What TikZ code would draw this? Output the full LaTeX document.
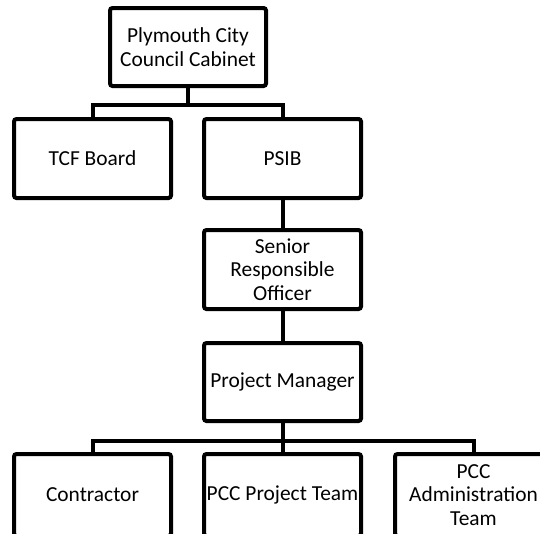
\documentclass[tikz,border=0pt]{standalone}
\usepackage{fontspec}
\setmainfont{Carlito}
\begin{document}
\begin{tikzpicture}[x=1pt,y=-1pt,
  orgbox/.style={draw=black, line width=4pt, rounded corners=2.5pt, fill=white,
    inner sep=0pt, align=center, font=\fontsize{21.4}{23.5}\selectfont,
    minimum width=157pt, minimum height=79pt},
  link/.style={draw=black, line width=4pt, line join=miter}]
\useasboundingbox (0,0) rectangle (540,533);
\clip (0,0) rectangle (540,533);
\fill[white] (0,0) rectangle (540,533);

% upper level
\node[orgbox, minimum width=156pt, minimum height=78pt] (cab) at (188,47) {Plymouth City\\Council Cabinet};
\node[orgbox] (tcf)  at (92.5,158.5) {TCF Board};
\node[orgbox] (psib) at (282.5,158.5) {PSIB};

% delivery chain
\node[orgbox] (sro) at (282.5,269.5) {Senior\\Responsible\\Officer};
\node[orgbox, minimum height=78pt] (pm) at (282.5,382) {Project Manager};

% delivery teams (lower edges run past the page)
\node[orgbox, minimum height=82pt] (con)  at (92.5,495) {Contractor};
\node[orgbox, minimum height=82pt] (team) at (282.5,495) {PCC Project Team};
\node[orgbox, minimum height=82pt] (adm)  at (473.5,495) {PCC\\Administration\\Team};

% connectors
\draw[link] (cab.south) -- ++(0,-17pt) coordinate (j1) -| (tcf.north);
\draw[link] (j1) -| (psib.north);
\draw[link] (psib.south) -- (sro.north);
\draw[link] (sro.south) -- (pm.north);
\draw[link] (pm.south) -- ++(0,-18pt) coordinate (j2) -| (con.north);
\draw[link] (j2) -| (team.north);
\draw[link] (j2) -| (adm.north);
\end{tikzpicture}
\end{document}
